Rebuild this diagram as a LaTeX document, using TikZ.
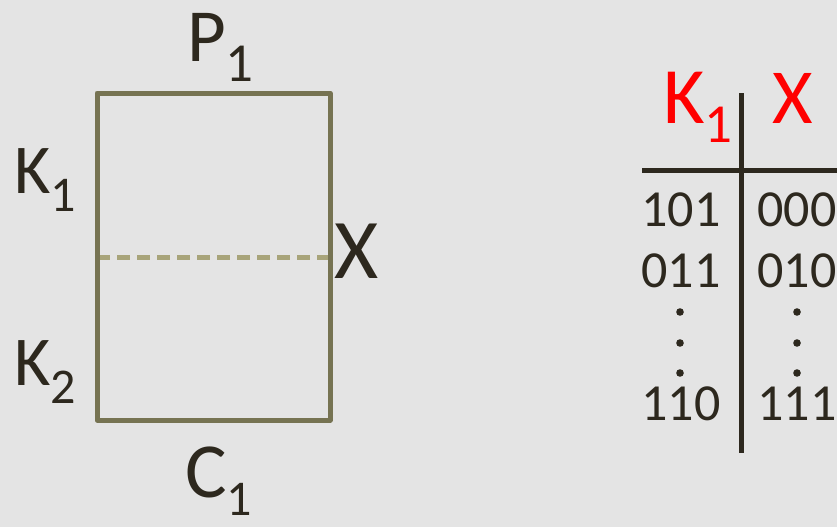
\documentclass[tikz,border=0pt]{standalone}
\usepackage{fontspec}
\setmainfont{Carlito}
\definecolor{boxOlive}{RGB}{118,115,82}
\definecolor{dashKhaki}{RGB}{168,164,122}
\definecolor{inkDark}{RGB}{45,40,30}
\definecolor{paperGray}{RGB}{228,228,228}
\usepackage{tikz}
\usetikzlibrary{positioning,calc}
% letter with a lowered index in a smaller size
\newcommand{\withsub}[3]{#1{\fontsize{#3}{#3}\selectfont\raisebox{-0.36em}{#2}}}

\tikzset{
  lbl/.style={anchor=base west, inner sep=0pt, text=inkDark},
  redlbl/.style={anchor=base west, inner sep=0pt, text=red},
  cell/.style={anchor=base, inner sep=0pt, text=inkDark,
               font=\fontsize{52}{52}\selectfont},
  boxline/.style={draw=boxOlive, line width=5pt, line join=round},
  midline/.style={draw=dashKhaki, line width=5pt, dash pattern=on 13pt off 7pt},
  rule/.style={draw=inkDark, line width=5pt}
}

\begin{document}
\begin{tikzpicture}[x=1pt, y=-1pt]
  \fill[paperGray] (0,0) rectangle (837,527);
  \useasboundingbox (0,0) rectangle (837,527);

  % the cipher block
  \coordinate (boxNW) at (97,93);
  \coordinate (boxSE) at (330,420);
  \coordinate (midW) at (97,257);
  \coordinate (midE) at (330,257);
  \draw[midline] (midW) -- (midE);
  \draw[boxline] (boxNW) rectangle (boxSE);

  \node[lbl, font=\fontsize{75}{75}\selectfont] (plain) at (187,62) {\withsub{P}{1}{55}};
  \node[lbl, font=\fontsize{70}{70}\selectfont] (keyone) at (14,193) {\withsub{K}{1}{50}};
  \node[lbl, font=\fontsize{70}{70}\selectfont] (keytwo) at (14,385) {\withsub{K}{2}{50}};
  \node[lbl, font=\fontsize{85}{85}\selectfont] (midx) at (334,278) {X};
  \node[lbl, font=\fontsize{78}{78}\selectfont] (cipher) at (185,497) {\withsub{C}{1}{50}};

  % the lookup table
  \coordinate (vtop) at (741,93);
  \coordinate (vbot) at (741,453);
  \coordinate (hleft) at (642,170);
  \coordinate (hright) at (837,170);
  \draw[rule] (vtop) -- (vbot);
  \draw[rule] (hleft) -- (hright);

  \node[redlbl, font=\fontsize{80}{80}\selectfont] (headk) at (663,123) {\withsub{K}{1}{55}};
  \node[redlbl, font=\fontsize{78}{78}\selectfont] (headx) at (772,123) {X};

  \node[cell] (kA) at (681,226) {101};
  \node[cell] (xA) at (797,226) {000};
  \node[cell] (kB) at (681,287) {011};
  \node[cell] (xB) at (797,287) {010};
  \node[cell] (kC) at (681,420) {110};
  \node[cell] (xC) at (797,420) {111};

  \foreach \yy in {312,343,373} {
    \fill[inkDark] (680,\yy) circle (3.8pt);
    \fill[inkDark] (797,\yy) circle (3.8pt);
  }
\end{tikzpicture}
\end{document}
